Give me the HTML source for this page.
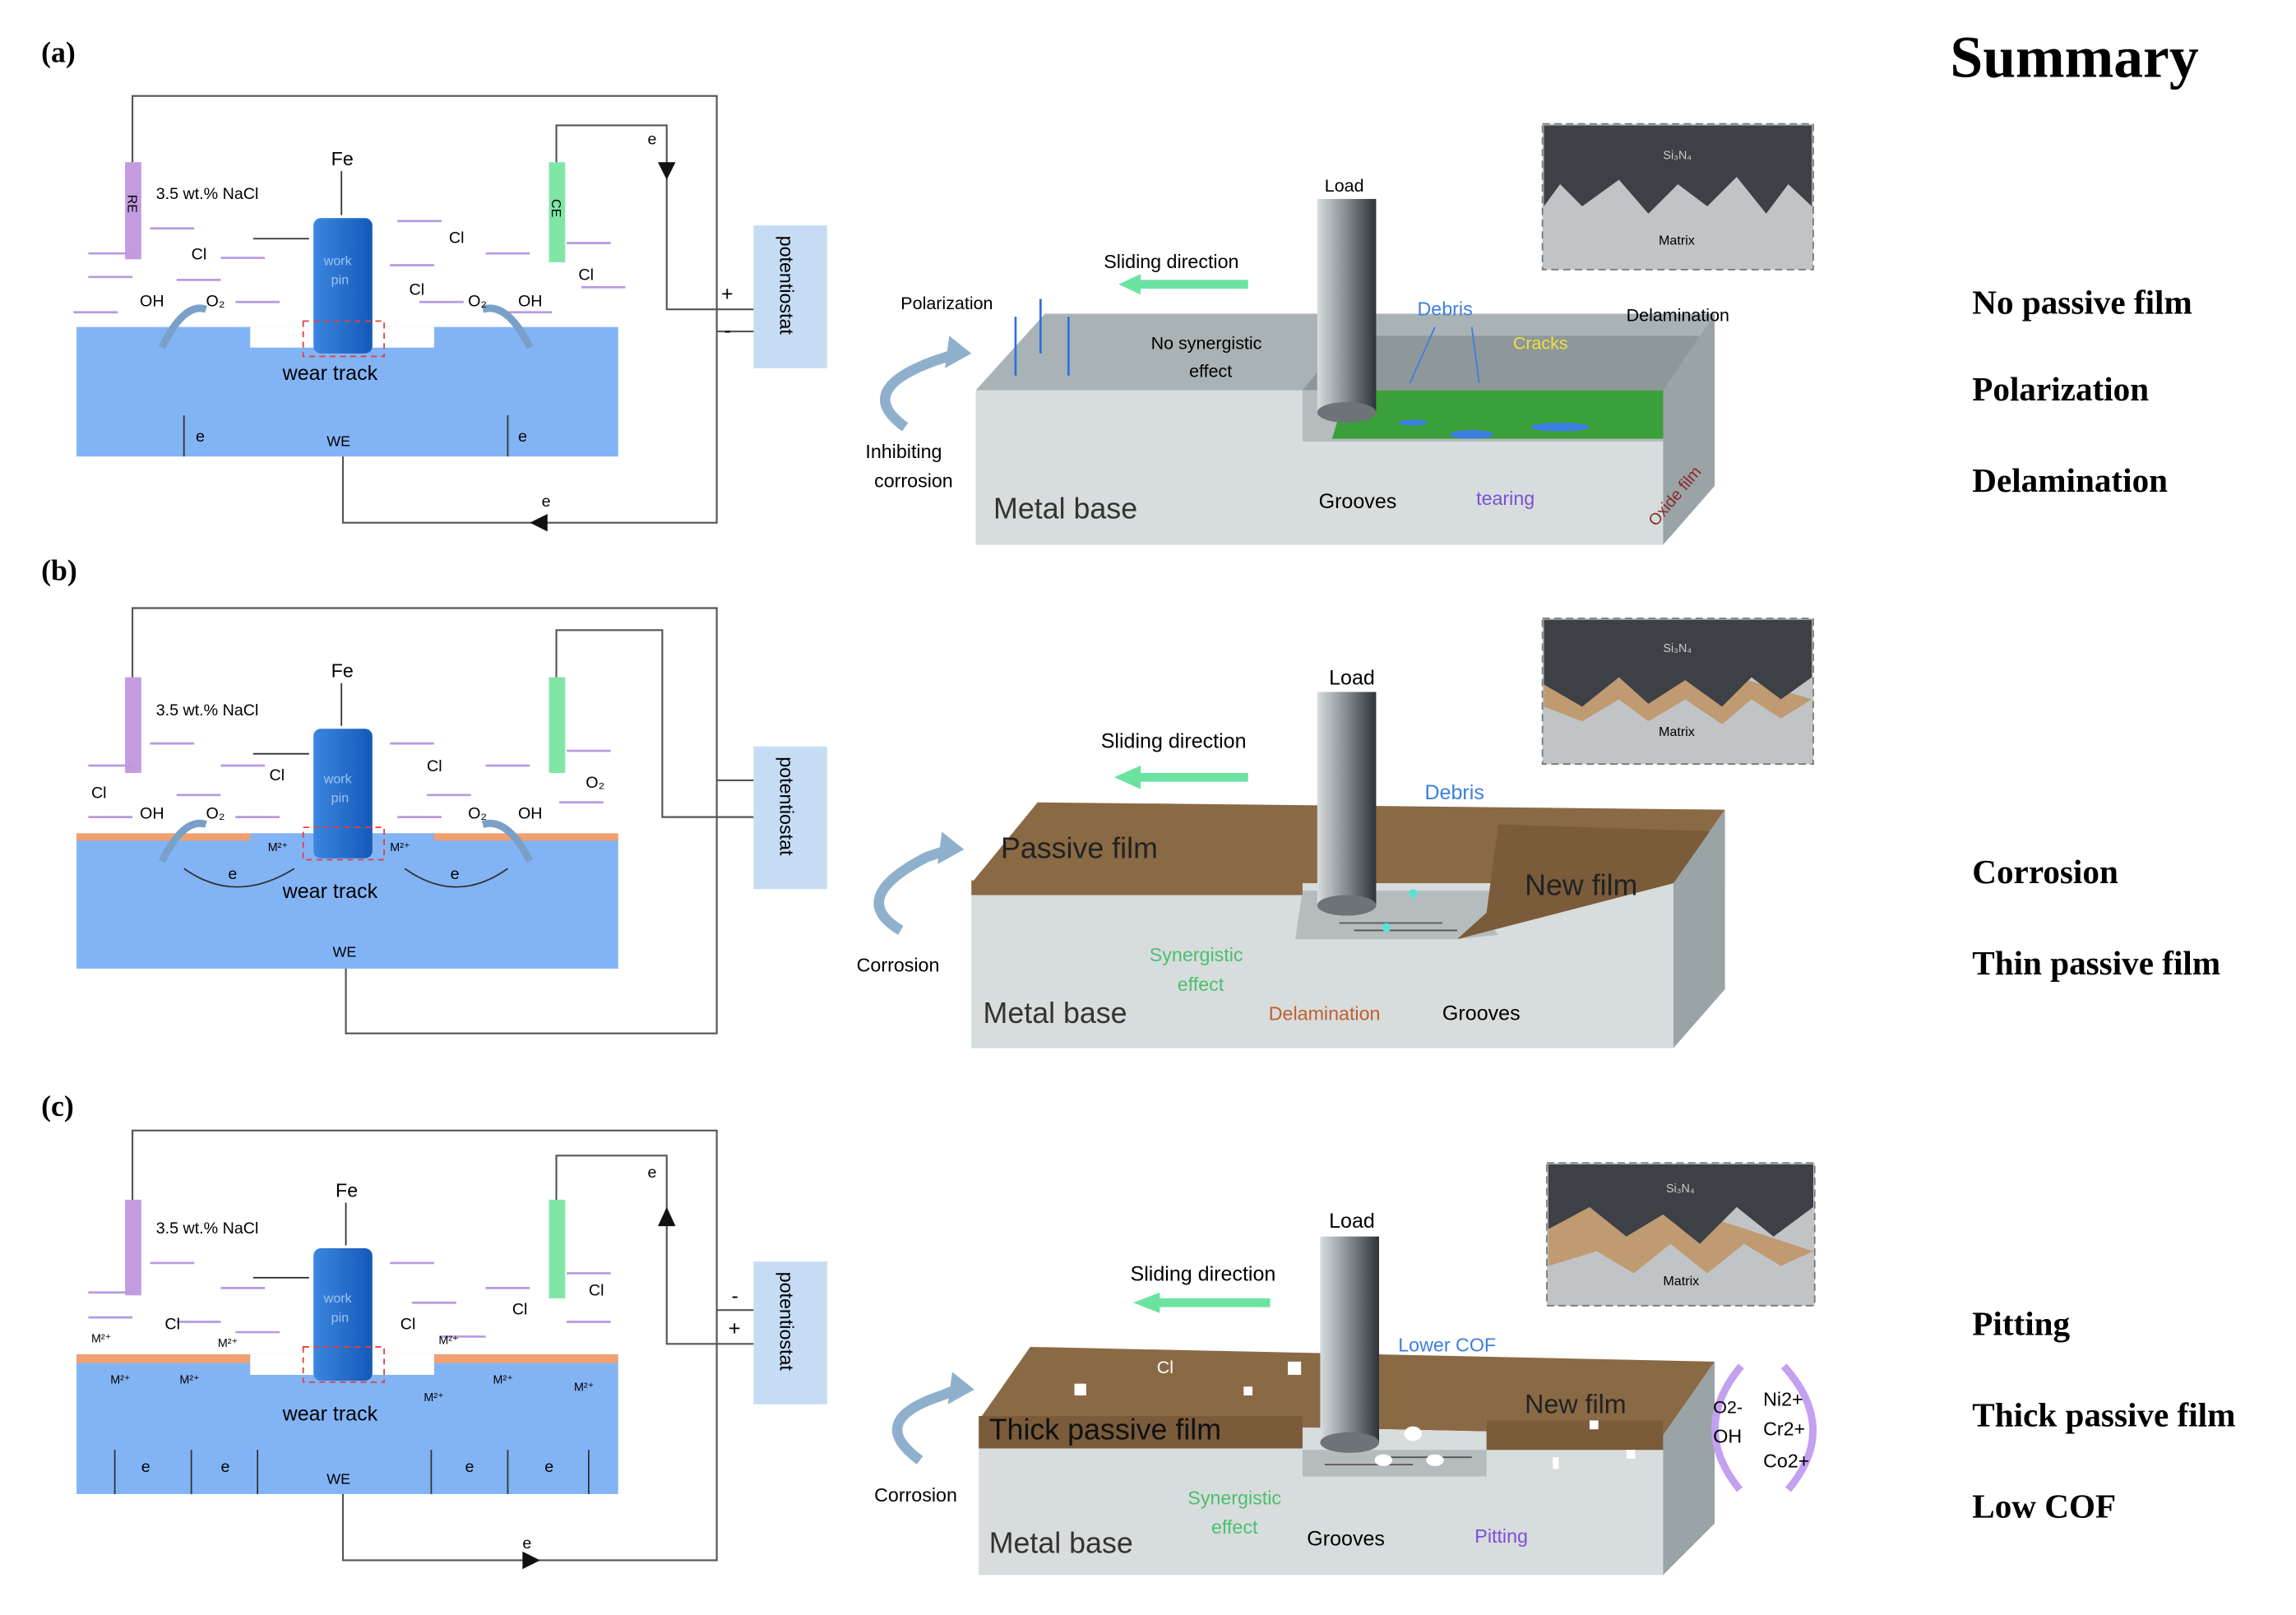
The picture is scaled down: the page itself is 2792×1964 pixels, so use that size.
<!DOCTYPE html>
<html><head><meta charset="utf-8"><style>html,body{margin:0;padding:0;background:#fff}svg{display:block}</style></head><body>
<svg width="2792" height="1964" viewBox="0 0 1560 1097" xmlns="http://www.w3.org/2000/svg" font-family="Liberation Sans, sans-serif">
<defs>
<linearGradient id="rod" x1="0" x2="1"><stop offset="0" stop-color="#d8dcdf"/><stop offset="0.45" stop-color="#8c9296"/><stop offset="1" stop-color="#2e3337"/></linearGradient>
<linearGradient id="pin" x1="0" x2="1"><stop offset="0" stop-color="#3a86e0"/><stop offset="1" stop-color="#1659b8"/></linearGradient>
</defs>
<rect width="1560" height="1097" fill="#fff"/>
<g font-family="Liberation Serif, serif" font-weight="bold">
<text x="28" y="42" font-size="20">(a)</text>
<text x="28" y="394" font-size="20">(b)</text>
<text x="28" y="758" font-size="20">(c)</text>
<text x="1325" y="52" font-size="40">Summary</text>
<g font-size="23">
<text x="1340" y="213">No passive film</text>
<text x="1340" y="272">Polarization</text>
<text x="1340" y="334">Delamination</text>
<text x="1340" y="600">Corrosion</text>
<text x="1340" y="662">Thin passive film</text>
<text x="1340" y="907">Pitting</text>
<text x="1340" y="969">Thick passive film</text>
<text x="1340" y="1031">Low COF</text>
</g></g>

<!-- ===== circuit (a) ===== -->
<g>
<rect x="52" y="222" width="368" height="88" fill="#82b4f5"/>
<rect x="170" y="222" width="125" height="14" fill="#fff"/>
<polyline points="90,110 90,65 487,65 487,355 233,355 233,310" fill="none" stroke="#555" stroke-width="1.2"/>
<polyline points="378,110 378,85 453,85 453,210 512,210" fill="none" stroke="#555" stroke-width="1.2"/>
<line x1="487" y1="225" x2="512" y2="225" stroke="#555" stroke-width="1.2"/>
<rect x="512" y="153" width="50" height="97" fill="#c6dcf5"/>
<text transform="translate(530,160) rotate(90)" font-size="13">potentiostat</text>
<rect x="85" y="110" width="11" height="66" fill="#c49ae0"/>
<rect x="373" y="110" width="11" height="68" fill="#7fe6a6"/>
<text transform="translate(87,132) rotate(90)" font-size="9">RE</text>
<text transform="translate(375,135) rotate(90)" font-size="9">CE</text>
<rect x="213" y="148" width="40" height="92" rx="5" fill="url(#pin)"/>
<text x="220" y="180" font-size="9" fill="#9cc3f5">work</text><text x="225" y="193" font-size="9" fill="#9cc3f5">pin</text>
<rect x="206" y="218" width="55" height="24" fill="none" stroke="#e04040" stroke-dasharray="4,3"/>
<text x="225" y="112" font-size="13">Fe</text>
<line x1="232" y1="116" x2="232" y2="146" stroke="#333"/>
<text x="106" y="135" font-size="11">3.5 wt.% NaCl</text>
<text x="192" y="258" font-size="14">wear track</text>
<text x="222" y="303" font-size="10">WE</text>
<g stroke="#b79ae0" stroke-width="1.5">
<line x1="102" y1="155" x2="132" y2="155"/><line x1="60" y1="188" x2="90" y2="188"/><line x1="120" y1="190" x2="150" y2="190"/><line x1="150" y1="175" x2="180" y2="175"/><line x1="160" y1="205" x2="190" y2="205"/><line x1="50" y1="212" x2="80" y2="212"/><line x1="270" y1="150" x2="300" y2="150"/><line x1="265" y1="180" x2="295" y2="180"/><line x1="285" y1="205" x2="315" y2="205"/><line x1="330" y1="172" x2="360" y2="172"/><line x1="385" y1="165" x2="415" y2="165"/><line x1="395" y1="195" x2="425" y2="195"/><line x1="345" y1="212" x2="375" y2="212"/><line x1="60" y1="172" x2="90" y2="172"/>
</g>
<path d="M110,236 Q125,205 140,210" fill="none" stroke="#7aa0c8" stroke-width="5"/>
<path d="M328,210 Q345,205 360,236" fill="none" stroke="#7aa0c8" stroke-width="5"/>
</g>
<g font-size="11">
<text x="130" y="176">Cl</text><text x="305" y="165">Cl</text><text x="278" y="200">Cl</text><text x="393" y="190">Cl</text>
<text x="95" y="208">OH</text><text x="140" y="208">O₂</text><text x="318" y="208">O₂</text><text x="352" y="208">OH</text>
<text x="133" y="300">e</text><text x="352" y="300">e</text><text x="440" y="98">e</text><text x="368" y="344">e</text>
<text x="490" y="204" font-size="14">+</text><text x="492" y="229" font-size="14">-</text>
</g>
<line x1="210" y1="162" x2="172" y2="162" stroke="#333"/>
<line x1="125" y1="310" x2="125" y2="282" stroke="#333"/><line x1="345" y1="310" x2="345" y2="282" stroke="#333"/>
<polygon points="447,110 459,110 453,122" fill="#111"/><polygon points="372,349 372,361 360,355" fill="#111"/>

<!-- ===== circuit (b) ===== -->
<g>
<rect x="52" y="568" width="368" height="90" fill="#82b4f5"/>
<rect x="52" y="566" width="368" height="5" fill="#f0a070"/>
<rect x="170" y="566" width="125" height="15" fill="#82b4f5"/>
<polyline points="90,460 90,413 487,413 487,702 235,702 235,658" fill="none" stroke="#555" stroke-width="1.2"/>
<polyline points="378,460 378,428 450,428 450,555 512,555" fill="none" stroke="#555" stroke-width="1.2"/>
<line x1="487" y1="530" x2="512" y2="530" stroke="#555" stroke-width="1.2"/>
<rect x="512" y="507" width="50" height="97" fill="#c6dcf5"/>
<text transform="translate(530,514) rotate(90)" font-size="13">potentiostat</text>
<rect x="85" y="460" width="11" height="65" fill="#c49ae0"/>
<rect x="373" y="460" width="11" height="65" fill="#7fe6a6"/>
<rect x="213" y="495" width="40" height="88" rx="5" fill="url(#pin)"/>
<text x="220" y="532" font-size="9" fill="#9cc3f5">work</text><text x="225" y="545" font-size="9" fill="#9cc3f5">pin</text>
<rect x="206" y="562" width="55" height="22" fill="none" stroke="#e04040" stroke-dasharray="4,3"/>
<text x="225" y="460" font-size="13">Fe</text>
<line x1="232" y1="464" x2="232" y2="493" stroke="#333"/>
<line x1="210" y1="512" x2="172" y2="512" stroke="#333"/>
<text x="106" y="486" font-size="11">3.5 wt.% NaCl</text>
<text x="192" y="610" font-size="14">wear track</text>
<text x="226" y="650" font-size="10">WE</text>
<g stroke="#b79ae0" stroke-width="1.5">
<line x1="102" y1="505" x2="132" y2="505"/><line x1="60" y1="520" x2="90" y2="520"/><line x1="150" y1="520" x2="180" y2="520"/><line x1="120" y1="540" x2="150" y2="540"/><line x1="60" y1="555" x2="90" y2="555"/><line x1="160" y1="555" x2="190" y2="555"/><line x1="265" y1="505" x2="295" y2="505"/><line x1="290" y1="540" x2="320" y2="540"/><line x1="330" y1="520" x2="360" y2="520"/><line x1="385" y1="510" x2="415" y2="510"/><line x1="380" y1="545" x2="410" y2="545"/><line x1="270" y1="555" x2="300" y2="555"/>
</g>
<path d="M110,585 Q125,555 140,560" fill="none" stroke="#7aa0c8" stroke-width="5"/>
<path d="M328,560 Q345,555 360,585" fill="none" stroke="#7aa0c8" stroke-width="5"/>
<path d="M125,590 Q160,615 200,590" fill="none" stroke="#333"/>
<path d="M275,590 Q310,615 345,590" fill="none" stroke="#333"/>
<g font-size="11"><text x="62" y="542">Cl</text><text x="183" y="530">Cl</text><text x="290" y="524">Cl</text><text x="95" y="556">OH</text><text x="140" y="556">O₂</text><text x="318" y="556">O₂</text><text x="352" y="556">OH</text><text x="398" y="535">O₂</text><text x="265" y="578" font-size="8">M²⁺</text><text x="182" y="578" font-size="8">M²⁺</text><text x="155" y="597">e</text><text x="306" y="597">e</text></g>
</g>

<!-- ===== circuit (c) ===== -->
<g>
<rect x="52" y="922" width="368" height="93" fill="#82b4f5"/>
<rect x="52" y="920" width="368" height="6" fill="#f0a070"/>
<rect x="170" y="920" width="125" height="14" fill="#fff"/>
<polyline points="90,815 90,768 487,768 487,1060 233,1060 233,1015" fill="none" stroke="#555" stroke-width="1.2"/>
<polyline points="378,815 378,785 453,785 453,913 512,913" fill="none" stroke="#555" stroke-width="1.2"/>
<line x1="487" y1="890" x2="512" y2="890" stroke="#555" stroke-width="1.2"/>
<rect x="512" y="857" width="50" height="97" fill="#c6dcf5"/>
<text transform="translate(530,864) rotate(90)" font-size="13">potentiostat</text>
<rect x="85" y="815" width="11" height="65" fill="#c49ae0"/>
<rect x="373" y="815" width="11" height="67" fill="#7fe6a6"/>
<rect x="213" y="848" width="40" height="90" rx="5" fill="url(#pin)"/>
<text x="220" y="885" font-size="9" fill="#9cc3f5">work</text><text x="225" y="898" font-size="9" fill="#9cc3f5">pin</text>
<rect x="206" y="915" width="55" height="24" fill="none" stroke="#e04040" stroke-dasharray="4,3"/>
<text x="228" y="813" font-size="13">Fe</text>
<line x1="235" y1="817" x2="235" y2="846" stroke="#333"/>
<line x1="210" y1="868" x2="172" y2="868" stroke="#333"/>
<text x="106" y="838" font-size="11">3.5 wt.% NaCl</text>
<text x="192" y="965" font-size="14">wear track</text>
<text x="222" y="1008" font-size="10">WE</text>
<g stroke="#b79ae0" stroke-width="1.5">
<line x1="102" y1="858" x2="132" y2="858"/><line x1="60" y1="878" x2="90" y2="878"/><line x1="150" y1="875" x2="180" y2="875"/><line x1="120" y1="898" x2="150" y2="898"/><line x1="60" y1="895" x2="90" y2="895"/><line x1="160" y1="905" x2="190" y2="905"/><line x1="265" y1="858" x2="295" y2="858"/><line x1="280" y1="885" x2="310" y2="885"/><line x1="330" y1="875" x2="360" y2="875"/><line x1="385" y1="865" x2="415" y2="865"/><line x1="385" y1="898" x2="415" y2="898"/><line x1="300" y1="908" x2="330" y2="908"/>
</g>
<g stroke="#333">
<line x1="78" y1="985" x2="78" y2="1015"/><line x1="130" y1="985" x2="130" y2="1015"/><line x1="175" y1="985" x2="175" y2="1015"/><line x1="293" y1="985" x2="293" y2="1015"/><line x1="345" y1="985" x2="345" y2="1015"/><line x1="400" y1="985" x2="400" y2="1015"/>
</g>
<g font-size="11"><text x="112" y="903">Cl</text><text x="272" y="903">Cl</text><text x="348" y="893">Cl</text><text x="400" y="880">Cl</text>
<g font-size="8"><text x="62" y="912">M²⁺</text><text x="148" y="915">M²⁺</text><text x="298" y="913">M²⁺</text><text x="75" y="940">M²⁺</text><text x="122" y="940">M²⁺</text><text x="288" y="952">M²⁺</text><text x="335" y="940">M²⁺</text><text x="390" y="945">M²⁺</text></g>
<text x="96" y="1000">e</text><text x="150" y="1000">e</text><text x="316" y="1000">e</text><text x="370" y="1000">e</text><text x="440" y="800">e</text><text x="355" y="1052">e</text>
<text x="495" y="907" font-size="14">+</text><text x="497" y="885" font-size="14">-</text></g>
<polygon points="447,833 459,833 453,820" fill="#111"/><polygon points="355,1054 355,1066 367,1060" fill="#111"/>
</g>

<!-- ===== block (a) ===== -->
<g>
<polygon points="663,265 710,213 1165,213 1130,265" fill="#a9b2b5"/>
<polygon points="885,265 915,228 1160,228 1130,265" fill="#8e979a"/>
<polygon points="663,265 885,265 885,300 1130,300 1130,370 663,370" fill="#d7dcdc"/>
<polygon points="885,265 1130,265 1130,300 885,300" fill="#b5bcbe"/>
<polygon points="915,265 1155,265 1130,298 905,298" fill="#3aa13a"/>
<polygon points="1130,265 1165,213 1165,330 1130,370" fill="#9aa3a6"/>
<g fill="#3c7fe0"><ellipse cx="1000" cy="295" rx="15" ry="3"/><ellipse cx="1060" cy="290" rx="20" ry="3"/><ellipse cx="960" cy="287" rx="10" ry="2"/></g>
<rect x="895" y="135" width="40" height="145" fill="url(#rod)"/>
<ellipse cx="915" cy="280" rx="20" ry="7" fill="#6d7377"/>
<text x="900" y="130" font-size="12">Load</text>
<text x="750" y="182" font-size="13">Sliding direction</text>
<polygon points="760,193 775,186 775,190 848,190 848,196 775,196 775,200" fill="#6be3a0"/>
<text x="612" y="210" font-size="12">Polarization</text>
<g stroke="#2f6fe0" stroke-width="1.5"><line x1="690" y1="255" x2="690" y2="215"/><line x1="707" y1="240" x2="707" y2="203"/><line x1="726" y1="255" x2="726" y2="215"/></g>
<text x="782" y="237" font-size="12">No synergistic</text><text x="808" y="256" font-size="12">effect</text>
<text x="963" y="214" font-size="13" fill="#3c7fe0">Debris</text>
<g stroke="#3c7fe0"><line x1="975" y1="222" x2="958" y2="260"/><line x1="1000" y1="222" x2="1005" y2="260"/></g>
<text x="1105" y="218" font-size="12">Delamination</text>
<text x="1028" y="237" font-size="12" fill="#f0e03a">Cracks</text>
<text x="896" y="345" font-size="14">Grooves</text>
<text x="1003" y="343" font-size="13" fill="#7a50d8">tearing</text>
<text transform="translate(1125,358) rotate(-50)" font-size="11" fill="#8a2a2a">Oxide film</text>
<text x="675" y="352" font-size="20" fill="#333">Metal base</text>
<text x="588" y="311" font-size="13">Inhibiting</text><text x="594" y="331" font-size="13">corrosion</text>
<path d="M615,290 Q580,265 635,245 L650,240" fill="none" stroke="#8fb0cc" stroke-width="7"/>
<polygon points="645,228 660,240 642,250" fill="#8fb0cc"/>
</g>

<!-- ===== block (b) ===== -->
<g>
<polygon points="660,600 705,545 1172,550 1137,600" fill="#8a6a45"/>
<polygon points="660,600 1137,600 1137,712 660,712" fill="#d7dcdc"/>
<polygon points="885,605 1018,605 1010,625 1018,635 990,638 880,638" fill="#b5bcbe"/>
<polygon points="1018,560 1172,565 1137,600 990,638 1010,620" fill="#7a5b3a"/>
<polygon points="1137,600 1172,550 1172,672 1137,712" fill="#9aa3a6"/>
<rect x="660" y="598" width="225" height="10" fill="#8a6a45"/>
<g stroke="#555"><line x1="910" y1="627" x2="980" y2="627"/><line x1="920" y1="632" x2="990" y2="632"/></g>
<rect x="895" y="470" width="40" height="145" fill="url(#rod)"/>
<ellipse cx="915" cy="615" rx="20" ry="7" fill="#6d7377"/>
<text x="903" y="465" font-size="14">Load</text>
<text x="748" y="508" font-size="14">Sliding direction</text>
<polygon points="757,528 775,520 775,525 848,525 848,531 775,531 775,536" fill="#6be3a0"/>
<text x="968" y="543" font-size="14" fill="#3c7fe0">Debris</text>
<text x="680" y="583" font-size="20" fill="#222">Passive film</text>
<text x="1036" y="608" font-size="20" fill="#222">New film</text>
<text x="668" y="695" font-size="20" fill="#333">Metal base</text>
<text x="781" y="653" font-size="13" fill="#4cc070">Synergistic</text><text x="800" y="673" font-size="13" fill="#4cc070">effect</text>
<text x="862" y="693" font-size="13" fill="#c06030">Delamination</text>
<text x="980" y="693" font-size="14">Grooves</text>
<text x="582" y="660" font-size="13">Corrosion</text>
<path d="M612,632 Q575,610 630,582 L645,577" fill="none" stroke="#8fb0cc" stroke-width="7"/>
<polygon points="640,565 655,577 637,587" fill="#8fb0cc"/>
<circle cx="960" cy="607" r="3" fill="#5ee0d0"/><circle cx="942" cy="630" r="3" fill="#5ee0d0"/>
</g>

<!-- ===== block (c) ===== -->
<g>
<polygon points="665,965 700,915 1165,925 1130,975" fill="#8a6a45"/>
<polygon points="665,965 1130,975 1130,1070 665,1070" fill="#d7dcdc"/>
<polygon points="885,985 1010,985 1010,1003 885,1003" fill="#b5bcbe"/>
<polygon points="1130,975 1165,925 1165,1035 1130,1070" fill="#9aa3a6"/>
<rect x="665" y="962" width="220" height="22" fill="#7a5b3a"/>
<rect x="1010" y="965" width="120" height="20" fill="#7a5b3a"/>
<g stroke="#555"><line x1="900" y1="995" x2="960" y2="995"/><line x1="940" y1="990" x2="1000" y2="990"/></g>
<rect x="897" y="840" width="40" height="140" fill="url(#rod)"/>
<ellipse cx="917" cy="980" rx="20" ry="7" fill="#6d7377"/>
<text x="903" y="834" font-size="14">Load</text>
<text x="768" y="870" font-size="14">Sliding direction</text>
<polygon points="770,885 788,878 788,882 863,882 863,888 788,888 788,892" fill="#6be3a0"/>
<text x="950" y="918" font-size="13" fill="#3c7fe0">Lower COF</text>
<text x="672" y="978" font-size="20" fill="#111">Thick passive film</text>
<text x="1036" y="960" font-size="18" fill="#222">New film</text>
<text x="672" y="1055" font-size="20" fill="#333">Metal base</text>
<text x="807" y="1022" font-size="13" fill="#4cc070">Synergistic</text><text x="823" y="1042" font-size="13" fill="#4cc070">effect</text>
<text x="888" y="1050" font-size="14">Grooves</text>
<text x="1002" y="1048" font-size="13" fill="#7a50d8">Pitting</text>
<text x="786" y="933" font-size="12" fill="#fff">Cl</text>
<text x="594" y="1020" font-size="13">Corrosion</text>
<path d="M625,992 Q588,965 640,948 L652,943" fill="none" stroke="#8fb0cc" stroke-width="7"/>
<polygon points="647,932 662,944 644,954" fill="#8fb0cc"/>
<path d="M1182,1012 Q1148,970 1183,928" fill="none" stroke="#c4a0f0" stroke-width="5"/>
<path d="M1212,928 Q1250,970 1215,1012" fill="none" stroke="#c4a0f0" stroke-width="5"/>
<text x="1164" y="960" font-size="12">O2-</text><text x="1164" y="980" font-size="13">OH</text>
<text x="1198" y="955" font-size="13">Ni2+</text><text x="1198" y="975" font-size="13">Cr2+</text><text x="1198" y="997" font-size="13">Co2+</text>
<g fill="#fff"><rect x="730" y="940" width="8" height="8"/><rect x="875" y="925" width="9" height="9"/><rect x="845" y="942" width="6" height="6"/><ellipse cx="960" cy="974" rx="6" ry="5"/><ellipse cx="940" cy="992" rx="6" ry="4"/><ellipse cx="975" cy="992" rx="6" ry="4"/><rect x="1080" y="965" width="6" height="6"/><rect x="1105" y="985" width="6" height="6"/><rect x="1055" y="990" width="4" height="8"/></g>
</g>

<!-- ===== insets ===== -->
<g>
<rect x="1048" y="84" width="184" height="99" fill="#c0c4c6" stroke="#777" stroke-dasharray="5,3"/>
<polygon points="1049,85 1231,85 1231,140 1215,125 1200,145 1180,120 1160,140 1140,125 1120,145 1100,122 1075,140 1060,125 1049,140" fill="#3d4045"/>
<text x="1130" y="108" font-size="8" fill="#ccc">Si₃N₄</text><text x="1127" y="166" font-size="9">Matrix</text>
<rect x="1048" y="420" width="184" height="99" fill="#c0c4c6" stroke="#777" stroke-dasharray="5,3"/>
<polygon points="1049,421 1231,421 1231,460 1210,475 1190,460 1170,480 1145,462 1120,478 1100,460 1075,480 1049,465 1049,480 1075,490 1100,475 1120,490 1145,475 1170,492 1190,475 1210,488 1231,475" fill="#c09a70"/>
<polygon points="1049,421 1231,421 1231,460 1210,475 1190,460 1170,480 1145,462 1120,478 1100,460 1075,480 1049,465" fill="#3d4045"/>
<text x="1130" y="443" font-size="8" fill="#ccc">Si₃N₄</text><text x="1127" y="500" font-size="9">Matrix</text>
<rect x="1051" y="790" width="182" height="97" fill="#c0c4c6" stroke="#777" stroke-dasharray="5,3"/>
<polygon points="1052,791 1232,791 1232,820 1205,840 1180,820 1155,845 1130,825 1105,840 1080,820 1052,835 1052,860 1085,850 1110,865 1135,845 1160,865 1185,845 1210,860 1232,850" fill="#c09a70"/>
<polygon points="1052,791 1232,791 1232,820 1205,840 1180,820 1155,845 1130,825 1105,840 1080,820 1052,835" fill="#3d4045"/>
<text x="1132" y="810" font-size="8" fill="#ccc">Si₃N₄</text><text x="1130" y="873" font-size="9">Matrix</text>
</g>
</svg>
</body></html>
